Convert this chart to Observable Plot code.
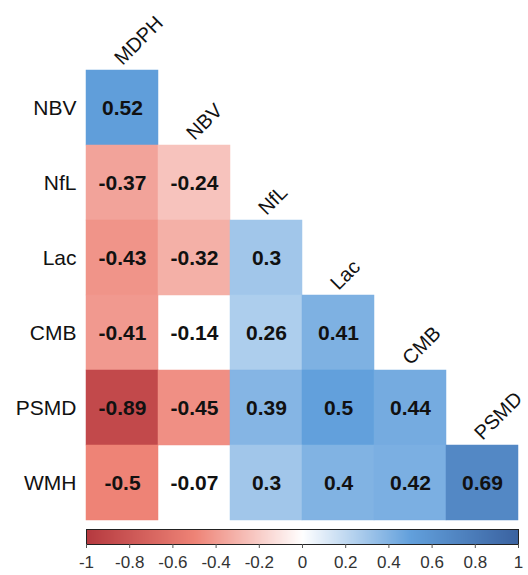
<!DOCTYPE html>
<html><head><meta charset="utf-8">
<script src="https://cdn.jsdelivr.net/npm/d3@7"></script>
<script src="https://cdn.jsdelivr.net/npm/@observablehq/plot@0.6"></script>
<style>
body{margin:0;background:#fff;font-family:"Liberation Sans",Arial,sans-serif;}
#chart{width:528px;height:575px;position:relative;}
#chart svg{display:block;}
</style></head><body><div id="chart"></div>
<script>
const cols = ["MDPH","NBV","NfL","Lac","CMB","PSMD"];
const rows = ["NBV","NfL","Lac","CMB","PSMD","WMH"];
const rNBV = [0.52];
const rNfL = [-0.37,-0.24];
const rLac = [-0.43,-0.32,0.3];
const rCMB = [-0.41,-0.14,0.26,0.41];
const rPSMD = [-0.89,-0.45,0.39,0.5,0.44];
const rWMH = [-0.5,-0.07,0.3,0.4,0.42,0.69];
const blank = [["CMB","NBV"],["WMH","NBV"]];
const colorTicks = [-1,-0.8,-0.6,-0.4,-0.2,0,0.2,0.4,0.6,0.8,1];
const colorStops = [-1,-0.5,0,0.5,1];
const colorRange = ["#b5393f","#ee8376","#ffffff","#62a0dc","#3a62a0"];

const rowVals = [rNBV,rNfL,rLac,rCMB,rPSMD,rWMH];
const cells = rowVals.flatMap((vals,i)=>vals.map((v,j)=>({
  row: rows[i], col: cols[j], v,
  blank: blank.some(([r,c])=>r===rows[i]&&c===cols[j])
})));
const filled = cells.filter(d=>!d.blank);
const colLabels = cols.map((c,i)=>({col:c,row:rows[i]}));

const colorScale = {type:"linear", domain: colorStops, range: colorRange, interpolate:"rgb"};
const font = '"Liberation Sans",Arial,sans-serif';

const main = Plot.plot({
  width:528, height:527, marginLeft:86, marginRight:10, marginTop:68, marginBottom:5,
  x:{domain:cols, padding:0, axis:null},
  y:{domain:rows, padding:0, axis:null},
  color: colorScale,
  style:{fontFamily:font, background:"transparent", overflow:"visible"},
  marks:[
    Plot.cell(filled,{x:"col",y:"row",fill:"v",inset:0,stroke:"v",strokeWidth:0.5}),
    Plot.text(cells,{x:"col",y:"row",text:d=>String(d.v),fontWeight:"bold",fontSize:21,fill:"#111"}),
    Plot.text(colLabels,{x:"col",y:"row",text:"col",rotate:-45,textAnchor:"start",lineAnchor:"bottom",dx:0,dy:-42,fontSize:20,fill:"#111"}),
    Plot.axisY({tickSize:0,tickPadding:10,fontSize:21,fill:"#111",label:null})
  ]
});

const bar = Plot.plot({
  width:528, height:48, marginLeft:86, marginRight:10, marginTop:2, marginBottom:31,
  x:{domain:[-1,1]}, y:{domain:[0,1], axis:null},
  color: colorScale,
  style:{fontFamily:font, background:"transparent", overflow:"visible"},
  marks:[
    Plot.raster({x1:-1,x2:1,y1:0,y2:1,width:432,height:1,fill:(x,y)=>x}),
    Plot.frame({stroke:"#222",strokeWidth:1}),
    Plot.axisX({ticks:colorTicks,tickFormat:d=>String(d),tickSize:4,tickPadding:7,fontSize:17,stroke:"#555",fill:"#333",label:null})
  ]
});

const el = document.getElementById("chart");
el.appendChild(main);
el.appendChild(bar);
</script></body></html>
